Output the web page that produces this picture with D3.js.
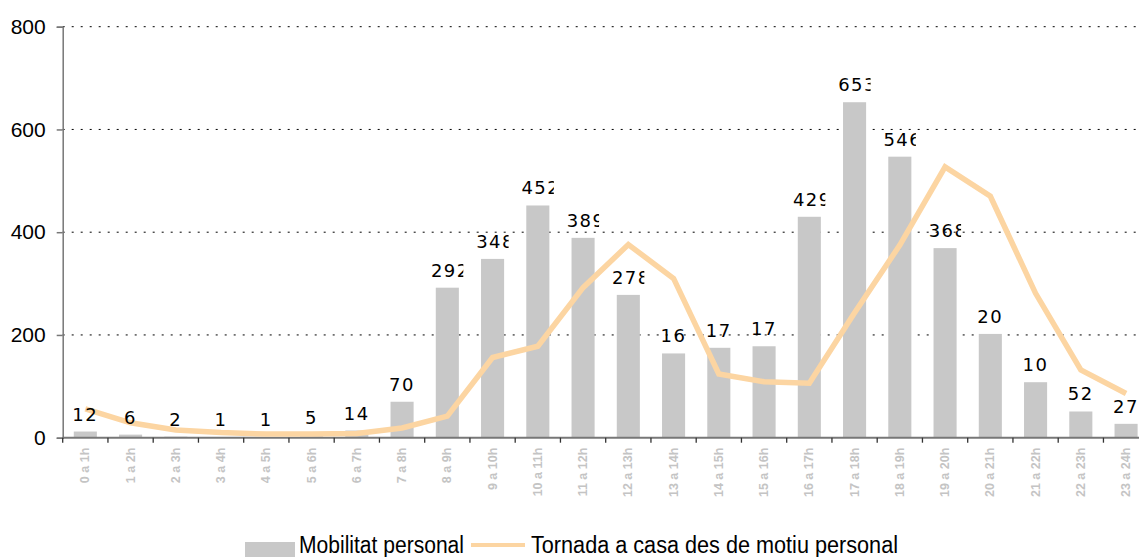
<!DOCTYPE html>
<html>
<head>
<meta charset="utf-8">
<script src="https://cdn.jsdelivr.net/npm/d3@7"></script>
<style>
  body { margin: 0; background: #fff; }
  svg { display: block; }
</style>
</head>
<body>
<svg id="chart" width="1139" height="557"></svg>
<script>
// categories (hour ranges)
var hours = ["0 a 1h", "1 a 2h", "2 a 3h", "3 a 4h", "4 a 5h", "5 a 6h", "6 a 7h", "7 a 8h",
    "8 a 9h", "9 a 10h", "10 a 11h", "11 a 12h", "12 a 13h", "13 a 14h", "14 a 15h", "15 a 16h",
    "16 a 17h", "17 a 18h", "18 a 19h", "19 a 20h", "20 a 21h", "21 a 22h", "22 a 23h", "23 a 24h"];
// bars: Mobilitat personal
var mobilitat = [12, 6, 2, 1, 1, 5, 14, 70, 292, 348, 452, 389, 278, 164, 175, 178, 430, 653, 547, 369, 202, 108, 51, 27];
// labels as they show up (boxes too narrow, last digit cut off)
var barLabels = ["12", "6", "2", "1", "1", "5", "14", "70", "292", "348", "452", "389", "278", "16", "17", "17",
    "429", "653", "546", "368", "20", "10", "52", "27"];
// line: Tornada a casa des de motiu personal
var tornada = [56, 29, 15, 10, 7, 7, 8, 19, 42, 156, 178, 292, 376, 310, 124, 109, 106, 243, 375, 527, 470, 281, 132, 86];
var yTicks = [0, 200, 400, 600, 800];
var legendNames = ["Mobilitat personal", "Tornada a casa des de motiu personal"];

(function () {
    var svg = d3.select("#chart");
    // plot box (runs past the right edge, like the original)
    var pLeft = 62.7, pRight = 1148.7, pTop = 26.7, pBottom = 437.7;

    var x = d3.scaleBand().domain(hours).range([pLeft, pRight]).paddingInner(0.49).paddingOuter(0.245);
    var y = d3.scaleLinear().domain([0, 800]).range([pBottom, pTop]);
    var step = x.step();
    var cx = function (h) { return x(h) + x.bandwidth() / 2; };

    // dotted grid
    svg.append("g").selectAll("line").data(yTicks.filter(function (t) { return t > 0; })).enter()
        .append("line")
        .attr("x1", pLeft).attr("x2", 1139)
        .attr("y1", function (d) { return y(d); }).attr("y2", function (d) { return y(d); })
        .attr("stroke", "#000").attr("stroke-width", 1).attr("stroke-dasharray", "2,7");

    // bars
    svg.append("g").selectAll("rect").data(mobilitat).enter()
        .append("rect")
        .attr("x", function (d, i) { return x(hours[i]); })
        .attr("y", function (d) { return y(d); })
        .attr("width", x.bandwidth())
        .attr("height", function (d) { return pBottom - y(d); })
        .attr("fill", "#c8c8c8");

    // y axis
    var yAxis = svg.append("g").attr("transform", "translate(" + pLeft + ",0)")
        .call(d3.axisLeft(y).tickValues(yTicks).tickSize(6).tickPadding(11));
    yAxis.select(".domain").attr("stroke", "#777").attr("stroke-width", 1.5);
    yAxis.selectAll(".tick line").attr("stroke", "#777").attr("stroke-width", 1.5);
    yAxis.selectAll(".tick text").attr("fill", "#000")
        .style("font-family", "'Liberation Sans', Arial, sans-serif").style("font-size", "21px");

    // x axis: line + ticks at category boundaries
    var xg = svg.append("g");
    xg.append("line").attr("x1", pLeft).attr("x2", 1139).attr("y1", pBottom).attr("y2", pBottom)
        .attr("stroke", "#777").attr("stroke-width", 2);
    xg.selectAll("line.tk").data(hours).enter().append("line").attr("class", "tk")
        .attr("x1", function (d) { return x(d) - x.paddingOuter() * step; })
        .attr("x2", function (d) { return x(d) - x.paddingOuter() * step; })
        .attr("y1", pBottom).attr("y2", pBottom + 5)
        .attr("stroke", "#333").attr("stroke-width", 1.3);
    xg.selectAll("text").data(hours).enter().append("text")
        .attr("transform", function (d) { return "translate(" + (cx(d) + 4) + "," + (pBottom + 10) + ") rotate(-90)"; })
        .attr("text-anchor", "end")
        .attr("fill", "#c4c4c4")
        .style("font-family", "'Liberation Sans', Arial, sans-serif")
        .style("font-size", "12.5px").style("font-weight", "bold")
        .text(function (d) { return d; });

    // line
    var line = d3.line()
        .x(function (d, i) { return cx(hours[i]); })
        .y(function (d) { return y(d); });
    svg.append("path").datum(tornada)
        .attr("d", line)
        .attr("fill", "none")
        .attr("stroke", "#fcd5a2")
        .attr("stroke-width", 5.5)
        .attr("stroke-linejoin", "miter");

    // data labels, clipped like the narrow label boxes of the original
    var defs = svg.append("defs");
    barLabels.forEach(function (lb, i) {
        var c = cx(hours[i]);
        var r = lb.length > 2 ? 16 : 12;
        defs.append("clipPath").attr("id", "lc" + i)
            .append("rect").attr("x", c - 22).attr("y", y(mobilitat[i]) - 40)
            .attr("width", 22 + r).attr("height", 40);
    });
    svg.append("g").selectAll("text").data(barLabels).enter()
        .append("text")
        .attr("clip-path", function (d, i) { return "url(#lc" + i + ")"; })
        .attr("x", function (d, i) { return cx(hours[i]) + (d.length > 2 ? 3 : 0); })
        .attr("y", function (d, i) { return y(mobilitat[i]) - 11; })
        .attr("text-anchor", "middle")
        .attr("fill", "#000")
        .style("font-family", "'DejaVu Sans', Verdana, sans-serif")
        .style("font-size", "18px").style("letter-spacing", "1.5px")
        .text(function (d) { return d; });

    // legend
    var lg = svg.append("g").style("font-family", "'Liberation Sans', Arial, sans-serif").style("font-size", "23px");
    lg.append("rect").attr("x", 245).attr("y", 542).attr("width", 50).attr("height", 20).attr("fill", "#c8c8c8");
    lg.append("text").attr("x", 299).attr("y", 553).attr("textLength", 165).attr("lengthAdjust", "spacingAndGlyphs")
        .text(legendNames[0]);
    lg.append("line").attr("x1", 471).attr("x2", 525).attr("y1", 545).attr("y2", 545)
        .attr("stroke", "#fcd5a2").attr("stroke-width", 4);
    lg.append("text").attr("x", 531).attr("y", 553).attr("textLength", 367).attr("lengthAdjust", "spacingAndGlyphs")
        .text(legendNames[1]);
})();
</script>
</body>
</html>
